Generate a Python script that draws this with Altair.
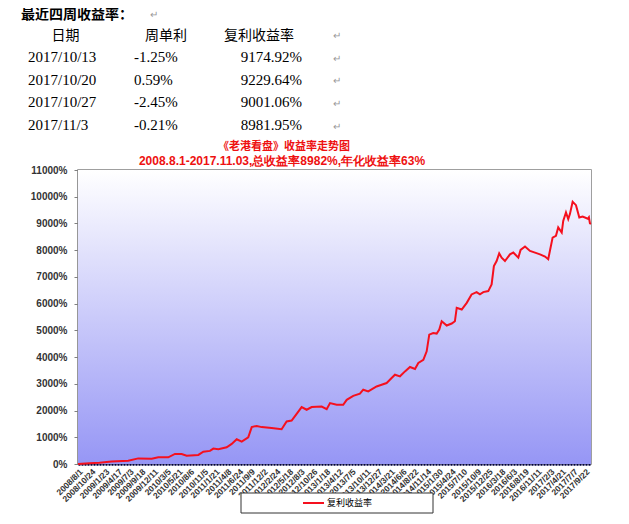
import altair as alt
import pandas as pd

# ---- data ----
dates = [
    "2008-08-01", "2008-10-15", "2008-12-20", "2009-03-11", "2009-06-28", "2009-09-02",
    "2009-11-30", "2010-01-12", "2010-03-19", "2010-05-02", "2010-06-15", "2010-07-18",
    "2010-10-03", "2010-11-05", "2010-12-19", "2011-01-10", "2011-02-12", "2011-04-08",
    "2011-05-11", "2011-06-13", "2011-07-16", "2011-08-28", "2011-09-20", "2011-10-23",
    "2011-11-25", "2012-01-29", "2012-04-04", "2012-05-07", "2012-06-09", "2012-07-12",
    "2012-08-14", "2012-09-16", "2012-10-19", "2012-12-24", "2013-01-26", "2013-02-17",
    "2013-04-02", "2013-05-15", "2013-06-07", "2013-07-20", "2013-09-02", "2013-09-24",
    "2013-10-27", "2013-12-21", "2014-01-23", "2014-02-25", "2014-03-30", "2014-04-21",
    "2014-05-24", "2014-06-26", "2014-07-29", "2014-08-31", "2014-09-22", "2014-10-25",
    "2014-11-16", "2014-12-03", "2014-12-29", "2015-01-21", "2015-02-07", "2015-02-23",
    "2015-03-28", "2015-04-30", "2015-05-21", "2015-06-02", "2015-07-05", "2015-08-07",
    "2015-09-08", "2015-10-11", "2015-11-02", "2015-11-24", "2015-12-27", "2016-01-18",
    "2016-02-02", "2016-02-20", "2016-03-08", "2016-03-24", "2016-04-15", "2016-05-18",
    "2016-06-09", "2016-07-12", "2016-07-27", "2016-08-25", "2016-09-27", "2016-10-30",
    "2016-12-02", "2017-01-04", "2017-01-25", "2017-02-05", "2017-02-23", "2017-03-17",
    "2017-04-01", "2017-04-24", "2017-05-04", "2017-05-22", "2017-06-06", "2017-06-17",
    "2017-07-05", "2017-07-27", "2017-08-18", "2017-09-09", "2017-10-13", "2017-10-20",
    "2017-10-27", "2017-11-03",
]
values = [
    0, 30, 50, 90, 120, 210,
    200, 250, 250, 375, 375, 310,
    340, 460, 490, 575, 550, 625,
    750, 925, 840, 1000, 1380, 1425,
    1380, 1350, 1300, 1590, 1625, 1875,
    2130, 2030, 2130, 2150, 2050, 2280,
    2215, 2215, 2400, 2550, 2630, 2780,
    2715, 2900, 2965, 3030, 3215, 3340,
    3280, 3465, 3630, 3555, 3780, 3900,
    4215, 4840, 4900, 4880, 5030, 5340,
    5180, 5255, 5340, 5845, 5780, 6030,
    6345, 6430, 6345, 6430, 6470, 6720,
    7405, 7595, 7880, 7720, 7595, 7845,
    7910, 7720, 8010, 8135, 7970, 7910,
    7845, 7760, 7660, 7970, 8470, 8535,
    8850, 8660, 9095, 9410, 9160, 9350,
    9810, 9685, 9225, 9260, 9174.92, 9229.64,
    9001.06, 8981.95,
]

label_dates = [
    "2008-08-01", "2008-10-24", "2009-01-23", "2009-04-17", "2009-07-03", "2009-09-18",
    "2009-12-11", "2010-03-05", "2010-05-21", "2010-08-06", "2010-11-05", "2011-01-21",
    "2011-04-08", "2011-06-24", "2011-09-09", "2011-12-02", "2012-02-24", "2012-05-18",
    "2012-08-03", "2012-10-26", "2013-01-18", "2013-04-12", "2013-07-05", "2013-10-11",
    "2013-12-27", "2014-03-21", "2014-06-06", "2014-08-22", "2014-11-14", "2015-01-30",
    "2015-04-24", "2015-07-10", "2015-10-09", "2015-12-25", "2016-03-18", "2016-06-03",
    "2016-08-19", "2016-11-11", "2017-02-03", "2017-04-21", "2017-07-07", "2017-09-22",
]

heading = "最近四周收益率："
headers = ["日期", "周单利", "复利收益率"]
table_dates = ["2017/10/13", "2017/10/20", "2017/10/27", "2017/11/3"]
weekly = ["-1.25%", "0.59%", "-2.45%", "-0.21%"]
compound = ["9174.92%", "9229.64%", "9001.06%", "8981.95%"]
title1 = "《老港看盘》收益率走势图"
title2 = "2008.8.1-2017.11.03,总收益率8982%,年化收益率63%"
series_name = "复利收益率"

# ---- build ----
def to_ms(lst):
    return (pd.to_datetime(lst).astype("int64") // 10**6).tolist()

df = pd.DataFrame({"t": to_ms(dates), "value": values})
one = pd.DataFrame({"a": [0]})

CJK = "Noto Sans CJK SC"
SERIF = "Liberation Serif"
SANS = "Liberation Sans"
RED = "#f5101e"

bg = alt.Chart(one).mark_rect(
    color=alt.Gradient(
        gradient="linear",
        stops=[alt.GradientStop(color="#ffffff", offset=0),
               alt.GradientStop(color="#9696f5", offset=1)],
        x1=0, x2=0, y1=0, y2=1,
    )
).encode(x=alt.value(0), x2=alt.value("width"), y=alt.value(0), y2=alt.value("height"))

line = alt.Chart(df).mark_line(color=RED, strokeWidth=2).encode(
    x=alt.X("t:T",
            scale=alt.Scale(type="utc", domain=to_ms(["2008-08-01", "2017-11-03"])),
            axis=alt.Axis(values=to_ms(label_dates),
                          labelExpr="utcFormat(datum.value, '%Y/%-m/%-d')",
                          labelAngle=-45, labelAlign="right", labelBaseline="top",
                          labelOverlap=False, labelFontSize=8.5, labelFont=SANS,
                          labelFontWeight="bold", labelColor="#333333", labelPadding=3,
                          labelBound=False, labelFlush=False,
                          tickSize=0, domainColor="#000040", domainWidth=2.5,
                          domainDash=[2, 1], grid=False, title=None)),
    y=alt.Y("value:Q",
            scale=alt.Scale(domain=[0, 11000], nice=False),
            axis=alt.Axis(values=list(range(0, 11001, 1000)), labelExpr="datum.value + '%'",
                          labelFontSize=10, labelFont=SANS, labelFontWeight="bold",
                          labelColor="#333333", tickSize=4, tickColor="#808080",
                          labelPadding=7, domainColor="#808080", domainWidth=1.5,
                          grid=False, title=None)),
)

def txt(text, x, y, size, font=CJK, weight="normal", align="left", color="black",
        baseline="middle", lineHeight=None):
    kw = dict(fontSize=size, font=font, fontWeight=weight, align=align, color=color,
              baseline=baseline)
    if lineHeight:
        kw["lineHeight"] = lineHeight
    return alt.Chart(one).mark_text(**kw).encode(
        x=alt.value(x), y=alt.value(y), text=alt.value(text))

layers = [
    bg, line,
    # legend box
    alt.Chart(one).mark_rect(fill="white", stroke="#333333", strokeWidth=1).encode(
        x=alt.value(163), x2=alt.value(355), y=alt.value(323), y2=alt.value(343)),
    alt.Chart(one).mark_rule(color=RED, strokeWidth=2).encode(
        x=alt.value(225), x2=alt.value(246), y=alt.value(333)),
    txt(series_name, 249, 333, 9),
    # chart titles
    txt(title1, 206, -23, 11, weight="bold", align="center", color="#ee1111"),
    txt(title2, 204, -9, 12, font=SANS, weight="bold", align="center", color="#ee1111"),
    # text block on top
    txt(heading, -57, -151, 14, weight="bold", baseline="alphabetic"),
    txt(headers[0], -12.5, -130, 14, align="center", baseline="alphabetic"),
    txt(headers[1], 88, -130, 14, align="center", baseline="alphabetic"),
    txt(headers[2], 181, -130, 14, align="center", baseline="alphabetic"),
    txt(table_dates, -50, -108, 15, font=SERIF, baseline="alphabetic", lineHeight=22.7),
    txt(weekly, 56, -108, 15, font=SERIF, baseline="alphabetic", lineHeight=22.7),
    txt(compound, 224, -108, 15, font=SERIF, align="right", baseline="alphabetic",
        lineHeight=22.7),
    txt(["↵"] * 5, 255, -131, 10, font=SANS, color="#999999", baseline="alphabetic",
        lineHeight=22.7),
    txt("↵", 72, -152, 10, font=SANS, color="#999999", baseline="alphabetic"),
]

chart = alt.layer(*layers).properties(
    width=513, height=294,
    autosize=alt.AutoSizeParams(type="none"),
    padding={"left": 70, "top": 162, "right": 30, "bottom": 60},
).configure_view(stroke="#808080", strokeWidth=1.5)

chart.save("out.html", embed_options={"renderer": "svg", "actions": False})
